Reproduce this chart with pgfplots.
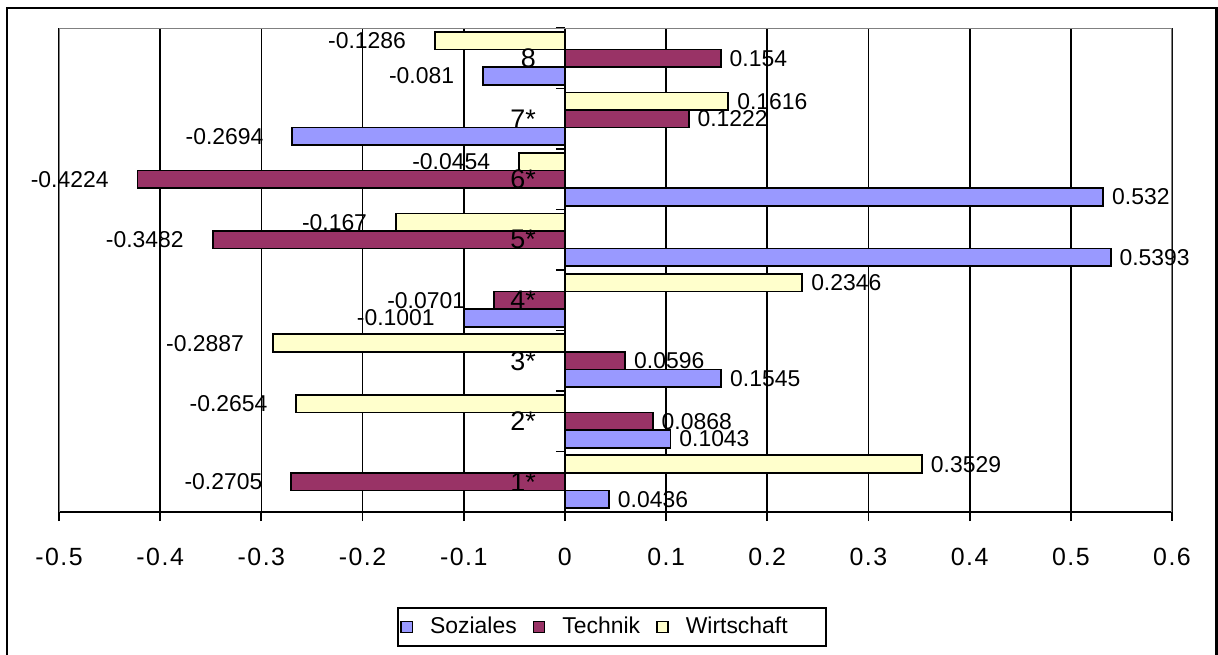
\documentclass[border=0pt]{standalone}
\usepackage{pgfplots}
\pgfplotsset{compat=1.18}
\usepackage{fontspec}
\setmainfont{Liberation Sans}
\newfontfamily\tickfont[LetterSpace=6]{Liberation Sans}
\definecolor{soz}{HTML}{9999FF}
\definecolor{tech}{HTML}{993366}
\definecolor{wirt}{HTML}{FFFFCC}
\definecolor{framegray}{HTML}{808080}

\pgfplotsset{
  barstyle/.style={draw=black, line width=0.95bp, fill=#1,
    legend image code/.code={\draw[##1, line width=0.75bp] (0bp,-2.8bp) rectangle (5.6bp,2.8bp);}},
}
\tikzset{catlabel/.style={anchor=east, xshift=-11bp, font=\fontsize{13.5}{15}\selectfont}}

\begin{document}
\begin{tikzpicture}
\useasboundingbox (0bp,0bp) rectangle (609bp,-327.5bp);
% chart frame (its lower edge is cut off)
\draw[black, line width=1.2bp] (3.6bp,-340bp) -- (3.6bp,-4bp) -- (608.2bp,-4bp) -- (608.2bp,-340bp);
\begin{axis}[
  at={(29.5bp,-256bp)}, anchor=south west,
  scale only axis, width=556.5bp, height=242bp,
  xbar, bar width=0.29,
  xmin=-0.5, xmax=0.6, ymin=0.5, ymax=8.5,
  axis x line*=bottom, axis y line*=middle,
  hide obscured x ticks=false, hide obscured y ticks=false,
  axis line style={black, line width=0.9bp},
  xtick={-0.5,-0.4,-0.3,-0.2,-0.1,0,0.1,0.2,0.3,0.4,0.5,0.6},
  xmajorgrids, major grid style={black, line width=0.85bp},
  tick align=outside, major tick length=4.5bp,
  tick style={black, line width=0.9bp},
  xticklabel style={font=\tickfont\fontsize{12.5}{14}\selectfont, yshift=-10bp},
  ytick={0.5,1.5,...,8.5}, yticklabels={},
  /pgf/number format/fixed,
  /pgf/number format/precision=4,
  /pgf/number format/assume math mode=true,
  % trailing space keeps labels of negative bars further from the bar end
  nodes near coords={\pgfmathprintnumber{\pgfplotspointmeta}\hspace*{10bp}},
  nodes near coords style={font=\fontsize{11.5}{13}\selectfont, inner sep=4bp},
  legend columns=3,
  legend style={at={(0.4969,-0.2376)}, anchor=center, draw=black,
    line width=1bp, font=\fontsize{11.5}{13}\selectfont,
    inner xsep=1bp, inner ysep=2.75bp,
    /tikz/every odd column/.append style={column sep=6.5bp},
    /tikz/every even column/.append style={column sep=6bp}},
]
% Soziales
\addplot[barstyle=soz, bar shift=-0.29] coordinates {
  (0.0436,1) (0.1043,2) (0.1545,3) (-0.1001,4)
  (0.5393,5) (0.532,6) (-0.2694,7) (-0.081,8)};
% Technik
\addplot[barstyle=tech, bar shift=0] coordinates {
  (-0.2705,1) (0.0868,2) (0.0596,3) (-0.0701,4)
  (-0.3482,5) (-0.4224,6) (0.1222,7) (0.154,8)};
% Wirtschaft
\addplot[barstyle=wirt, bar shift=0.29] coordinates {
  (0.3529,1) (-0.2654,2) (-0.2887,3) (0.2346,4)
  (-0.167,5) (-0.0454,6) (0.1616,7) (-0.1286,8)};
\legend{Soziales,Technik,Wirtschaft\hspace*{16bp}}
% plot area border
\draw[framegray, line width=0.9bp] (rel axis cs:0,0) -- (rel axis cs:0,1) -- (rel axis cs:1,1) -- (rel axis cs:1,0);
% category names, set over the bars beside the zero line
\node[catlabel] at (axis cs:0,1) {1*};
\node[catlabel] at (axis cs:0,2) {2*};
\node[catlabel] at (axis cs:0,3) {3*};
\node[catlabel] at (axis cs:0,4) {4*};
\node[catlabel] at (axis cs:0,5) {5*};
\node[catlabel] at (axis cs:0,6) {6*};
\node[catlabel] at (axis cs:0,7) {7*};
\node[catlabel] at (axis cs:0,8) {8};
\end{axis}
\end{tikzpicture}
\end{document}
